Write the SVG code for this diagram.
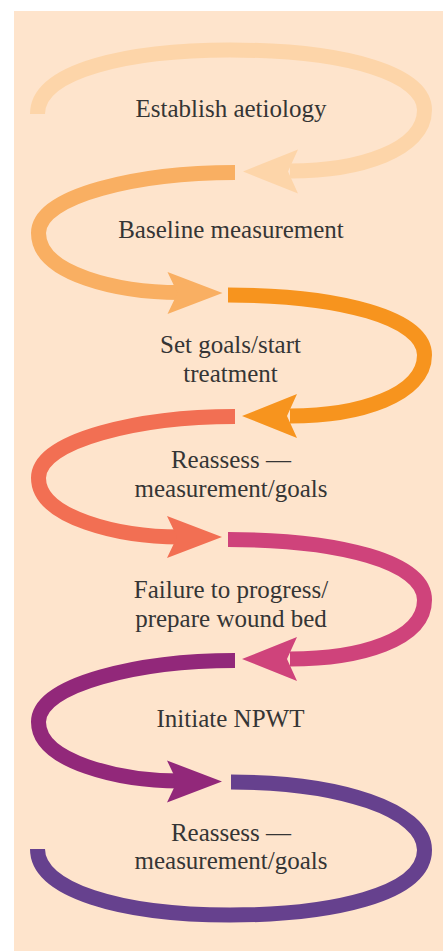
<svg xmlns="http://www.w3.org/2000/svg" width="446" height="951" viewBox="0 0 446 951">
<style>
.bg{fill:#FEE4CC}
.loop{fill:none;stroke-width:15;stroke-linecap:butt}
.lbl{font-family:"Liberation Serif","Times New Roman",serif;font-size:25px;fill:#353535;text-anchor:middle}
.c1{stroke:#FDD5A9}.f1{fill:#FDD5A9}
.c2{stroke:#F9AF62}.f2{fill:#F9AF62}
.c3{stroke:#F7941E}.f3{fill:#F7941E}
.c4{stroke:#F26F53}.f4{fill:#F26F53}
.c5{stroke:#CF437B}.f5{fill:#CF437B}
.c6{stroke:#92287A}.f6{fill:#92287A}
.c7{stroke:#66418E}.f7{fill:#66418E}
</style>
<defs>
<path id="headL" d="M0,0 L55,-22 L45,0 L55,22 Z"/>
<path id="headR" d="M0,0 L-55,-21 L-45,0 L-55,21 Z"/>
</defs>
<rect class="bg" x="14" y="11" width="429" height="940"/>
<g id="connectors">
<path class="loop c1" d="M37.5,114 C37.5,70 130,50 230,50 C350,50 424.5,75 424.5,110 C424.5,150 360,171 290,171"/>
<use href="#headL" class="f1" x="243" y="171.5"/>
<path class="loop c2" d="M235,172.5 C140,172.5 38.5,195 38.5,233 C38.5,275 120,292.5 180,292.5"/>
<use href="#headR" class="f2" x="222.5" y="293"/>
<path class="loop c3" d="M228,295 C340,295 424.5,318 424.5,355 C424.5,395 360,416 290,416"/>
<use href="#headL" class="f3" x="242" y="416"/>
<path class="loop c4" d="M235,416.5 C140,416.5 38.5,440 38.5,478 C38.5,518 120,537 180,537"/>
<use href="#headR" class="f4" x="222" y="537"/>
<path class="loop c5" d="M228,539.5 C340,539.5 424.5,562 424.5,600 C424.5,640 360,659 290,659"/>
<use href="#headL" class="f5" x="242" y="659"/>
<path class="loop c6" d="M235,660.5 C140,660.5 38.5,684 38.5,722 C38.5,762 120,781 180,781"/>
<use href="#headR" class="f6" x="222" y="781.5"/>
<path class="loop c7" d="M231,782 C340,782 424.5,810 424.5,850 C424.5,895 330,915 230,915 C120,915 37.5,890 37.5,849"/>
</g>
<g id="node1"><text class="lbl" x="231" y="117">Establish aetiology</text></g>
<g id="node2"><text class="lbl" x="231" y="238">Baseline measurement</text></g>
<g id="node3"><text class="lbl" x="230.5" y="353">Set goals/start</text><text class="lbl" x="230.5" y="382">treatment</text></g>
<g id="node4"><text class="lbl" x="231" y="468">Reassess —</text><text class="lbl" x="231" y="497">measurement/goals</text></g>
<g id="node5"><text class="lbl" x="231" y="598">Failure to progress/</text><text class="lbl" x="231" y="627">prepare wound bed</text></g>
<g id="node6"><text class="lbl" x="230.5" y="727">Initiate NPWT</text></g>
<g id="node7"><text class="lbl" x="231" y="841">Reassess —</text><text class="lbl" x="231" y="869">measurement/goals</text></g>
</svg>
